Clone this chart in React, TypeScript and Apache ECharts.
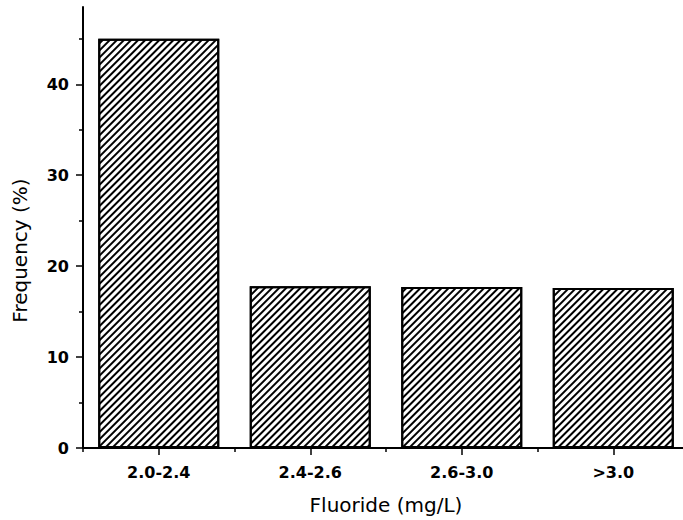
import React, { useEffect, useRef } from "react";
import * as echarts from "echarts";

const categories = ["2.0-2.4", "2.4-2.6", "2.6-3.0", ">3.0"];
const frequency = [45, 17.8, 17.7, 17.6];
const majorTicks = [0, 10, 20, 30, 40];
const minorTicks = [5, 15, 25, 35, 45];

export default function App() {
  const ref = useRef<HTMLDivElement>(null);
  useEffect(() => {
    if (!ref.current) return;
    const chart = echarts.init(ref.current, null, { renderer: "svg" });
    const labelFont = { fontFamily: "DejaVu Sans", fontWeight: "bold" as const, fontSize: 16, color: "#000" };
    const nameFont = { fontFamily: "DejaVu Sans", fontSize: 20, color: "#000" };
    chart.setOption({
      animation: false,
      backgroundColor: "#fff",
      grid: { left: 83, top: 7, height: 441, width: 606, containLabel: false, outerBoundsMode: "none" },
      xAxis: [
        {
          type: "category",
          data: categories,
          position: "bottom",
          axisLine: { show: true, lineStyle: { color: "#000", width: 2 } },
          axisTick: { show: true, length: 4, lineStyle: { color: "#000", width: 1.5 } },
          axisLabel: { ...labelFont, margin: 16 },
          name: "Fluoride (mg/L)",
          nameLocation: "middle",
          nameGap: 47,
          nameTextStyle: nameFont,
        },
        {
          type: "category",
          data: categories,
          position: "bottom",
          axisLine: { show: false },
          axisTick: { show: true, alignWithLabel: true, length: 7, lineStyle: { color: "#000", width: 1.5 } },
          axisLabel: { show: false },
        },
      ],
      yAxis: [
        {
          type: "value",
          min: 0,
          max: 48.5,
          interval: 10,
          splitLine: { show: false },
          axisLine: { show: true, lineStyle: { color: "#000", width: 2 } },
          axisTick: { show: true, length: 7, customValues: majorTicks, lineStyle: { color: "#000", width: 1.5 } },
          axisLabel: { ...labelFont, margin: 14, customValues: majorTicks },
          name: "Frequency (%)",
          nameLocation: "middle",
          nameGap: 53,
          nameTextStyle: { ...nameFont, padding: [0, 46, 0, 0] },
        },
        {
          type: "value",
          min: 0,
          max: 48.5,
          interval: 10,
          position: "left",
          splitLine: { show: false },
          axisLine: { show: false },
          axisTick: { show: true, length: 4, customValues: minorTicks, lineStyle: { color: "#000", width: 1.5 } },
          axisLabel: { show: false },
        },
      ],
      series: [
        {
          type: "bar",
          data: frequency,
          xAxisIndex: 0,
          yAxisIndex: 0,
          barWidth: 121,
          itemStyle: {
            color: "#fff",
            borderColor: "#000",
            borderWidth: 2,
            decal: {
              symbol: "rect",
              symbolSize: 1,
              dashArrayX: [1, 0],
              dashArrayY: [1.6, 2.4],
              rotation: -Math.PI / 4,
              color: "#000",
            },
          },
        },
      ],
    });
    return () => chart.dispose();
  }, []);
  return (
    <div
      ref={ref}
      style={{ position: "fixed", left: 0, top: 0, width: 683, height: 520, background: "#fff" }}
    />
  );
}
